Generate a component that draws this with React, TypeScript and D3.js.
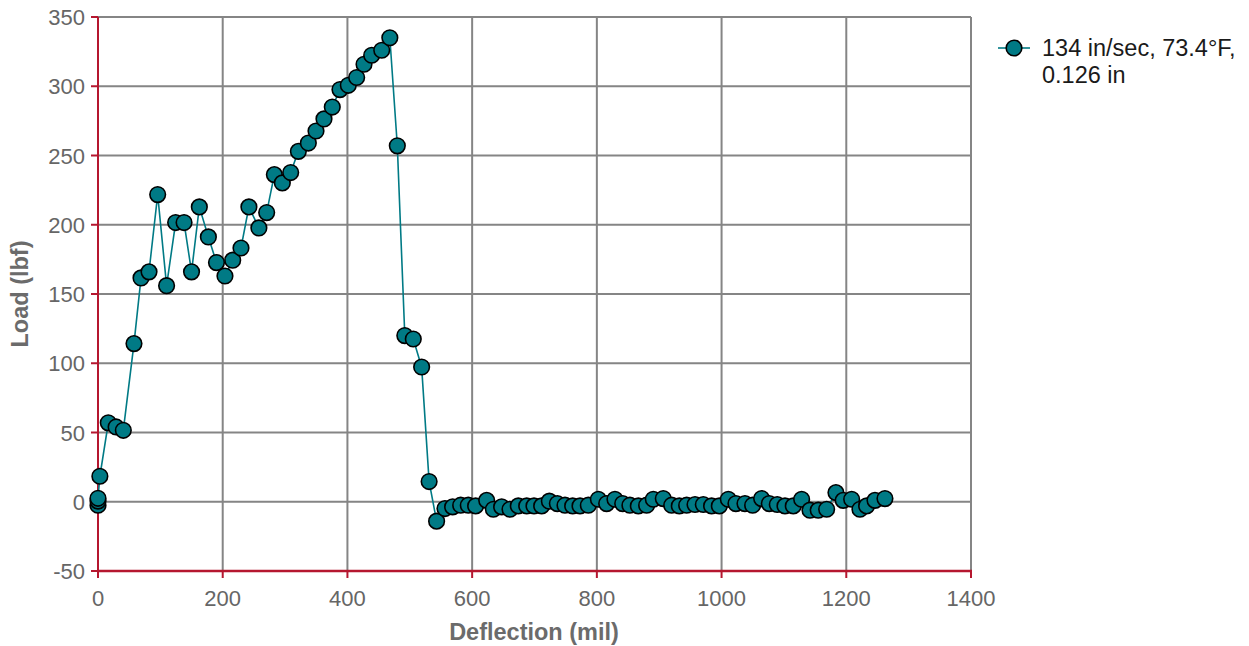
import React, { useEffect, useRef } from "react";
import * as d3 from "d3";

// deflection (mil) and load (lbf)
const deflection = [
  0, 0, 0, 3, 16.5, 29, 40.6, 57.7, 69, 81.8, 95.7, 110, 124.5, 138, 150, 162.5,
  177, 190, 203.6, 216, 229.3, 242, 258, 270.5, 282.8, 295.6, 309, 321.3, 337.3,
  349.6, 362.4, 375.7, 388, 401.4, 414.8, 426.6, 438.9, 455, 468, 480, 492, 505.6,
  519, 531, 543, 556.4, 568.7, 581.6, 593.8, 605.6, 623.3, 634, 647.3, 660.7, 674,
  687.5, 699.2, 711.5, 723.8, 736.6, 748.9, 761.2, 773, 786.3, 802.4, 815.7, 829,
  841.4, 853, 866.5, 879.8, 890.5, 906.5, 920, 932.2, 944, 957.4, 970.7, 984,
  996.4, 1010.8, 1023, 1037.5, 1049.8, 1064.2, 1076.5, 1089.3, 1101.7, 1115,
  1128.4, 1141.8, 1155, 1168.5, 1183.4, 1195, 1208.6, 1221.9, 1232.6, 1246, 1262,
];
const load = [
  -2.5, 0.5, 2.5, 18.4, 57, 54, 51.6, 114.2, 161.6, 166, 221.8, 156, 201.6, 201.6,
  166, 212.9, 191.2, 172.7, 163, 174.4, 183.2, 212.9, 197.7, 208.8, 236.2, 230.2,
  237.7, 253, 259, 267.7, 276.4, 285, 297.6, 300.7, 306.3, 315.9, 322.4, 326, 335,
  257, 120, 117.5, 97.3, 14.6, -14, -4.9, -3.7, -2.5, -2.5, -3, 1, -5.4, -3.7, -5.4,
  -3, -3, -3, -3, 0.4, -1.3, -2.5, -3, -3, -2.5, 1.8, -1.3, 1.8, -1.3, -2.5, -3,
  -2.5, 1.8, 2.3, -2.5, -3, -2.5, -2, -2, -3, -3, 1.8, -1.3, -1.3, -2.5, 2.3, -1.3,
  -2, -3, -3, 1.8, -6.1, -6.1, -5.4, 6.6, 1, 1.8, -5.4, -3, 1, 2.3,
];
const xTicks = [0, 200, 400, 600, 800, 1000, 1200, 1400];
const yTicks = [-50, 0, 50, 100, 150, 200, 250, 300, 350];
const seriesName = ["134 in/sec, 73.4°F,", "0.126 in"];

const W = 1249, H = 646;
const left = 98, right = 971, top = 17, bottom = 571;
const teal = "#007a85";
const red = "#b5172f";
const grid = "#858585";
const font = "'Liberation Sans', Arial, sans-serif";

function App() {
  const ref = useRef(null);

  useEffect(() => {
    const svg = d3.select(ref.current);
    svg.selectAll("*").remove();

    const x = d3.scaleLinear().domain([0, 1400]).range([left, right]);
    const y = d3.scaleLinear().domain([-50, 350]).range([bottom, top]);

    // grid
    svg.append("g").selectAll("line").data(xTicks).enter().append("line")
      .attr("x1", d => x(d)).attr("x2", d => x(d))
      .attr("y1", top).attr("y2", bottom)
      .attr("stroke", grid).attr("stroke-width", 2);
    svg.append("g").selectAll("line").data(yTicks).enter().append("line")
      .attr("x1", left).attr("x2", right)
      .attr("y1", d => y(d)).attr("y2", d => y(d))
      .attr("stroke", grid).attr("stroke-width", 2);

    // axes (red)
    svg.append("line").attr("x1", left).attr("x2", left).attr("y1", top).attr("y2", bottom + 1)
      .attr("stroke", red).attr("stroke-width", 2);
    svg.append("line").attr("x1", left - 1).attr("x2", right + 1).attr("y1", bottom).attr("y2", bottom)
      .attr("stroke", red).attr("stroke-width", 2.5);
    svg.append("g").selectAll("line").data(yTicks).enter().append("line")
      .attr("x1", left - 7).attr("x2", left)
      .attr("y1", d => y(d)).attr("y2", d => y(d))
      .attr("stroke", red).attr("stroke-width", 2);
    svg.append("g").selectAll("line").data(xTicks).enter().append("line")
      .attr("x1", d => x(d)).attr("x2", d => x(d))
      .attr("y1", bottom).attr("y2", bottom + 7)
      .attr("stroke", red).attr("stroke-width", 2);

    // tick labels
    svg.append("g").selectAll("text").data(yTicks).enter().append("text")
      .attr("x", left - 13).attr("y", d => y(d) + 8)
      .attr("text-anchor", "end")
      .style("font-family", font).style("font-size", "22px").style("fill", "#666")
      .text(d => d);
    svg.append("g").selectAll("text").data(xTicks).enter().append("text")
      .attr("x", d => x(d)).attr("y", bottom + 35)
      .attr("text-anchor", "middle")
      .style("font-family", font).style("font-size", "22px").style("fill", "#666")
      .text(d => d);

    // axis titles
    svg.append("text")
      .attr("x", 534).attr("y", 640)
      .attr("text-anchor", "middle")
      .style("font-family", font).style("font-size", "23.5px").style("font-weight", "bold").style("fill", "#6b6b6b")
      .text("Deflection (mil)");
    svg.append("text")
      .attr("transform", `translate(28, ${(top + bottom) / 2}) rotate(-90)`)
      .attr("text-anchor", "middle")
      .style("font-family", font).style("font-size", "23.5px").style("font-weight", "bold").style("fill", "#6b6b6b")
      .text("Load (lbf)");

    // series
    const pts = deflection.map((d, i) => [d, load[i]]);
    const line = d3.line().x(d => x(d[0])).y(d => y(d[1]));
    svg.append("path").datum(pts)
      .attr("d", line)
      .attr("fill", "none").attr("stroke", teal).attr("stroke-width", 1.6);
    svg.append("g").selectAll("circle").data(pts).enter().append("circle")
      .attr("cx", d => x(d[0])).attr("cy", d => y(d[1]))
      .attr("r", 7.8)
      .attr("fill", teal).attr("stroke", "#000").attr("stroke-width", 1.6);

    // legend
    const lg = svg.append("g").attr("transform", "translate(998, 48)");
    lg.append("line").attr("x1", 0).attr("x2", 32).attr("y1", 0).attr("y2", 0)
      .attr("stroke", teal).attr("stroke-width", 1.6);
    lg.append("circle").attr("cx", 16).attr("cy", 0).attr("r", 7.8)
      .attr("fill", teal).attr("stroke", "#000").attr("stroke-width", 1.6);
    lg.selectAll("text").data(seriesName).enter().append("text")
      .attr("x", 44).attr("y", (d, i) => 8 + i * 27)
      .style("font-family", font).style("font-size", "23.5px").style("fill", "#1a1a1a")
      .text(d => d);
  }, []);

  return (
    <svg ref={ref} width={W} height={H}
      style={{ position: "absolute", left: 0, top: 0, background: "#fff" }} />
  );
}

export default App;
